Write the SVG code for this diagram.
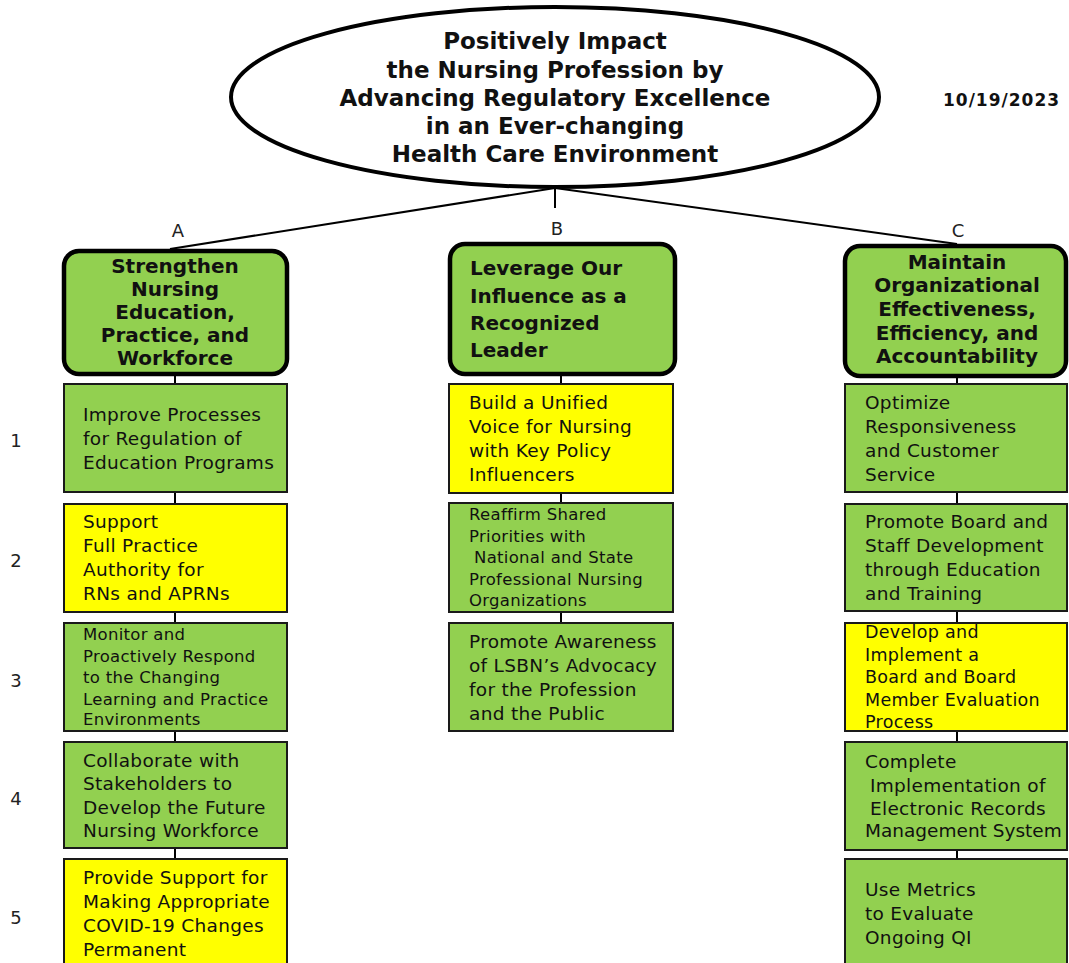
<svg xmlns="http://www.w3.org/2000/svg" width="1069" height="963" viewBox="0 0 1069 963">
<style>
.bg{fill:#ffffff}
.goal{fill:#ffffff;stroke:#000;stroke-width:4}
.hdr{fill:#92D050;stroke:#000;stroke-width:4.5}
.g{fill:#92D050;stroke:#1a1a1a;stroke-width:2}
.y{fill:#FFFF00;stroke:#1a1a1a;stroke-width:2}
.ln{stroke:#000;stroke-width:2;fill:none}
.gt{font-family:"DejaVu Sans","Liberation Sans",sans-serif;font-weight:bold;font-size:23px;fill:#111;text-anchor:middle}
.ht{font-family:"DejaVu Sans","Liberation Sans",sans-serif;font-weight:bold;font-size:20px;fill:#111}
.t{font-family:"DejaVu Sans","Liberation Sans",sans-serif;font-size:18.5px;letter-spacing:0.3px;fill:#111}
.ts{font-family:"DejaVu Sans","Liberation Sans",sans-serif;font-size:16.5px;letter-spacing:0.3px;fill:#111}
.tm{font-family:"DejaVu Sans","Liberation Sans",sans-serif;font-size:17.5px;letter-spacing:0.3px;fill:#111}
.lbl{font-family:"DejaVu Sans","Liberation Sans",sans-serif;font-size:18px;fill:#222;text-anchor:middle}
.date{font-family:"DejaVu Sans","Liberation Sans",sans-serif;font-weight:bold;font-size:17px;fill:#111;letter-spacing:1px}
</style>
<rect class="bg" x="0" y="0" width="1069" height="963"/>

<g id="connectors">
  <line class="ln" x1="555" y1="188" x2="170" y2="249"/>
  <line class="ln" x1="555" y1="188" x2="957" y2="244"/>
  <line class="ln" x1="555" y1="188" x2="555" y2="208"/>
  <line class="ln" x1="175" y1="375" x2="175" y2="384"/>
  <line class="ln" x1="175" y1="492" x2="175" y2="504"/>
  <line class="ln" x1="175" y1="612" x2="175" y2="623"/>
  <line class="ln" x1="175" y1="731" x2="175" y2="742"/>
  <line class="ln" x1="175" y1="848" x2="175" y2="859"/>
  <line class="ln" x1="561" y1="374" x2="561" y2="384"/>
  <line class="ln" x1="561" y1="493" x2="561" y2="503"/>
  <line class="ln" x1="561" y1="612" x2="561" y2="623"/>
  <line class="ln" x1="957" y1="376" x2="957" y2="384"/>
  <line class="ln" x1="957" y1="492" x2="957" y2="504"/>
  <line class="ln" x1="957" y1="611" x2="957" y2="623"/>
  <line class="ln" x1="957" y1="731" x2="957" y2="742"/>
  <line class="ln" x1="957" y1="850" x2="957" y2="859"/>
</g>

<g id="goal">
  <ellipse class="goal" cx="555" cy="97" rx="324" ry="90"/>
  <text class="gt" x="555" y="49">Positively Impact</text>
  <text class="gt" x="555" y="78">the Nursing Profession by</text>
  <text class="gt" x="555" y="106">Advancing Regulatory Excellence</text>
  <text class="gt" x="555" y="134">in an Ever-changing</text>
  <text class="gt" x="555" y="162">Health Care Environment</text>
</g>

<g id="date"><text class="date" x="943" y="106">10/19/2023</text></g>

<g id="labels">
  <text class="lbl" x="178" y="237">A</text>
  <text class="lbl" x="557" y="235">B</text>
  <text class="lbl" x="958" y="237">C</text>
  <text class="lbl" x="16" y="447">1</text>
  <text class="lbl" x="16" y="567">2</text>
  <text class="lbl" x="16" y="687">3</text>
  <text class="lbl" x="16" y="805">4</text>
  <text class="lbl" x="16" y="924">5</text>
</g>

<g id="hdrA">
  <rect class="hdr" x="64" y="251" width="223" height="123" rx="15"/>
  <text class="ht" text-anchor="middle" x="175"><tspan x="175" y="273">Strengthen</tspan><tspan x="175" y="296">Nursing</tspan><tspan x="175" y="319">Education,</tspan><tspan x="175" y="342">Practice, and</tspan><tspan x="175" y="365">Workforce</tspan></text>
</g>
<g id="hdrB">
  <rect class="hdr" x="450" y="244" width="225" height="130" rx="15"/>
  <text class="ht" x="470"><tspan x="470" y="275">Leverage Our</tspan><tspan x="470" y="303">Influence as a</tspan><tspan x="470" y="330">Recognized</tspan><tspan x="470" y="357">Leader</tspan></text>
</g>
<g id="hdrC">
  <rect class="hdr" x="845" y="246" width="221" height="130" rx="15"/>
  <text class="ht" text-anchor="middle" x="957"><tspan x="957" y="269">Maintain</tspan><tspan x="957" y="292">Organizational</tspan><tspan x="957" y="316">Effectiveness,</tspan><tspan x="957" y="340">Efficiency, and</tspan><tspan x="957" y="363">Accountability</tspan></text>
</g>

<g id="A1">
  <rect class="g" x="64" y="384" width="223" height="108"/>
  <text class="t"><tspan x="83" y="421">Improve Processes</tspan><tspan x="83" y="445">for Regulation of</tspan><tspan x="83" y="469">Education Programs</tspan></text>
</g>
<g id="A2">
  <rect class="y" x="64" y="504" width="223" height="108"/>
  <text class="t"><tspan x="83" y="528">Support</tspan><tspan x="83" y="552">Full Practice</tspan><tspan x="83" y="576">Authority for</tspan><tspan x="83" y="600">RNs and APRNs</tspan></text>
</g>
<g id="A3">
  <rect class="g" x="64" y="623" width="223" height="108"/>
  <text class="ts"><tspan x="83" y="640">Monitor and</tspan><tspan x="83" y="662">Proactively Respond</tspan><tspan x="83" y="683">to the Changing</tspan><tspan x="83" y="705">Learning and Practice</tspan><tspan x="83" y="725">Environments</tspan></text>
</g>
<g id="A4">
  <rect class="g" x="64" y="742" width="223" height="106"/>
  <text class="t"><tspan x="83" y="767">Collaborate with</tspan><tspan x="83" y="790">Stakeholders to</tspan><tspan x="83" y="814">Develop the Future</tspan><tspan x="83" y="837">Nursing Workforce</tspan></text>
</g>
<g id="A5">
  <rect class="y" x="64" y="859" width="223" height="110"/>
  <text class="t"><tspan x="83" y="884">Provide Support for</tspan><tspan x="83" y="908">Making Appropriate</tspan><tspan x="83" y="932">COVID-19 Changes</tspan><tspan x="83" y="956">Permanent</tspan></text>
</g>

<g id="B1">
  <rect class="y" x="449" y="384" width="224" height="109"/>
  <text class="t"><tspan x="469" y="409">Build a Unified</tspan><tspan x="469" y="433">Voice for Nursing</tspan><tspan x="469" y="457">with Key Policy</tspan><tspan x="469" y="481">Influencers</tspan></text>
</g>
<g id="B2">
  <rect class="g" x="449" y="503" width="224" height="109"/>
  <text class="ts"><tspan x="469" y="520">Reaffirm Shared</tspan><tspan x="469" y="542">Priorities with</tspan><tspan x="474" y="563">National and State</tspan><tspan x="469" y="585">Professional Nursing</tspan><tspan x="469" y="606">Organizations</tspan></text>
</g>
<g id="B3">
  <rect class="g" x="449" y="623" width="224" height="108"/>
  <text class="t"><tspan x="469" y="648">Promote Awareness</tspan><tspan x="469" y="672">of LSBN’s Advocacy</tspan><tspan x="469" y="696">for the Profession</tspan><tspan x="469" y="720">and the Public</tspan></text>
</g>

<g id="C1">
  <rect class="g" x="845" y="384" width="222" height="108"/>
  <text class="t"><tspan x="865" y="409">Optimize</tspan><tspan x="865" y="433">Responsiveness</tspan><tspan x="865" y="457">and Customer</tspan><tspan x="865" y="481">Service</tspan></text>
</g>
<g id="C2">
  <rect class="g" x="845" y="504" width="222" height="107"/>
  <text class="t"><tspan x="865" y="528">Promote Board and</tspan><tspan x="865" y="552">Staff Development</tspan><tspan x="865" y="576">through Education</tspan><tspan x="865" y="600">and Training</tspan></text>
</g>
<g id="C3">
  <rect class="y" x="845" y="623" width="222" height="108"/>
  <text class="tm"><tspan x="865" y="638">Develop and</tspan><tspan x="865" y="661">Implement a</tspan><tspan x="865" y="683">Board and Board</tspan><tspan x="865" y="706">Member Evaluation</tspan><tspan x="865" y="728">Process</tspan></text>
</g>
<g id="C4">
  <rect class="g" x="845" y="742" width="222" height="108"/>
  <text class="t"><tspan x="865" y="768">Complete</tspan><tspan x="870" y="792">Implementation of</tspan><tspan x="870" y="815">Electronic Records</tspan><tspan x="865" y="837" letter-spacing="0">Management System</tspan></text>
</g>
<g id="C5">
  <rect class="g" x="845" y="859" width="222" height="110"/>
  <text class="t"><tspan x="865" y="896">Use Metrics</tspan><tspan x="865" y="920">to Evaluate</tspan><tspan x="865" y="944">Ongoing QI</tspan></text>
</g>
</svg>
